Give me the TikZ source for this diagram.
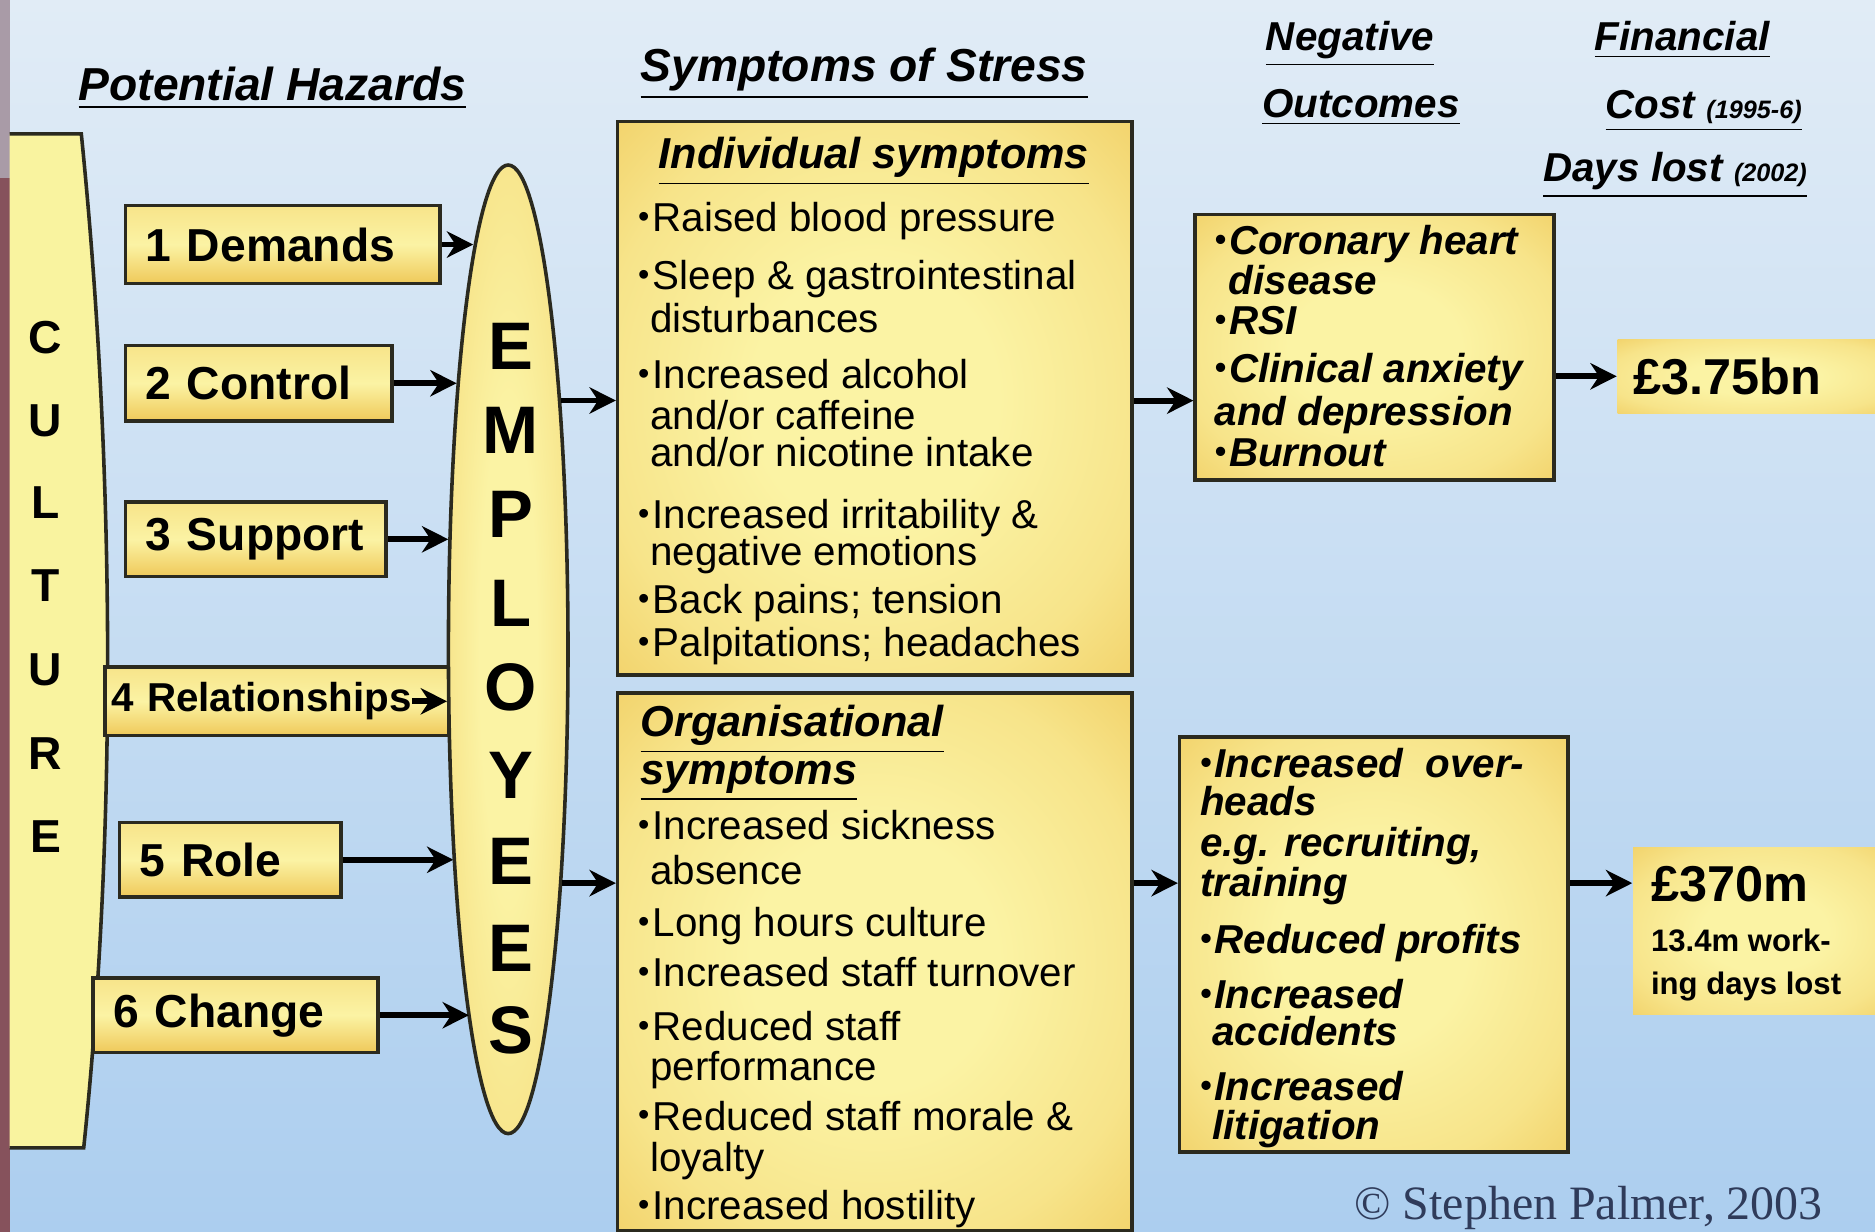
\documentclass[tikz,border=0pt]{standalone}
\usepackage{fontspec}
\setmainfont{Liberation Sans}
\newfontfamily\copyfont{Liberation Serif}
\usepackage{tikz}
\usetikzlibrary{shapes.geometric, arrows.meta, positioning}
\definecolor{stressbgtop}{HTML}{E1ECF6}
\definecolor{stressbgbot}{HTML}{ACCEEF}
\definecolor{stressedge}{HTML}{2B2A1F}
\definecolor{stresspale}{HTML}{FBF3A4}
\definecolor{stressmid}{HTML}{F7E48A}
\definecolor{stressgold}{HTML}{EFC95A}
\definecolor{stressculture}{HTML}{F9F39F}
\definecolor{stressstripe}{HTML}{86525C}
\definecolor{stressstripetop}{HTML}{A99BA7}
\definecolor{stresscopy}{HTML}{2F3B5A}
\newcommand{\bul}{{\raisebox{0.1em}{\scalebox{0.8}{•}}\kern0.08em}}
\pgfdeclareradialshading{stressglow}{\pgfpoint{0bp}{0bp}}{color(0bp)=(stresspale); color(12bp)=(stresspale);
    color(27bp)=(stressmid); color(41bp)=(stressgold); color(50bp)=(stressgold)}

\tikzset{
    hazard/.style={draw=stressedge, line width=0.85pt, top color=stressmid, bottom color=stressgold,
        middle color=stresspale, inner xsep=1.7mm, inner ysep=0pt, align=left,
        font=\fontsize{11}{13}\selectfont\bfseries},
    symbox/.style={draw=stressedge, line width=0.85pt, shading=stressglow, anchor=north west, inner sep=0pt},
    costbox/.style={shading=stressglow, anchor=north west, inner sep=0pt},
    empshape/.style={ellipse, draw=stressedge, line width=0.85pt, shading=stressglow,
        minimum width=10mm, minimum height=81mm, inner sep=0pt},
    empletter/.style={inner sep=0pt, font=\fontsize{16}{16}\selectfont\bfseries},
    cultletter/.style={inner sep=0pt, font=\fontsize{11}{11}\selectfont\bfseries},
    head/.style={anchor=base west, inner sep=0pt, font=\fontsize{11}{13}\selectfont\bfseries\itshape},
    subhead/.style={head, font=\fontsize{9.6}{11}\selectfont\bfseries\itshape},
    boxhead/.style={head, font=\fontsize{10.3}{12}\selectfont\bfseries\itshape},
    bodytxt/.style={anchor=base west, inner sep=0pt, font=\fontsize{9.6}{11}\selectfont},
    outtxt/.style={bodytxt, font=\fontsize{9.6}{11}\selectfont\bfseries\itshape},
    costtxt/.style={bodytxt, font=\fontsize{12}{14}\selectfont\bfseries},
    notetxt/.style={bodytxt, font=\fontsize{7.4}{9}\selectfont\bfseries},
    arr/.style={line width=1.4pt, -{Stealth[length=2.2mm, width=2.2mm]}},
}

\begin{document}
\begin{tikzpicture}[x=0.1mm, y=-0.1mm]
    \clip (0,0) rectangle (1568,1030);
    % background and left stripe
    \shade[top color=stressbgtop, bottom color=stressbgbot] (0,0) rectangle (1568,1030);
    \fill[stressstripetop] (0,0) rectangle (8,149);
    \fill[stressstripe] (0,149) rectangle (8,1030);

    % column headings
    \node[head] (hzhead) at (65,84) {\underline{Potential Hazards}};
    \node[head] (syhead) at (535,68) {\underline{Symptoms of Stress}};
    \node[subhead] (neghead) at (1058,42) {\underline{Negative}};
    \node[subhead] (outhead) at (1055,98) {\underline{Outcomes}};
    \node[subhead] (finhead) at (1333,42) {\underline{Financial}};
    \node[subhead] (costhead) at (1342,99) {\underline{Cost {\fontsize{6}{7}\selectfont(1995-6)}}};
    \node[subhead] (dayhead) at (1290,152) {\underline{Days lost {\fontsize{6}{7}\selectfont(2002)}}};

    % culture
    \fill[stressculture] (8,112) -- (68,112) .. controls (97,400) and (97,700) .. (70,960) -- (8,960) -- cycle;
    \draw[stressedge, line width=0.85pt] (8,112) -- (68,112) .. controls (97,400) and (97,700) .. (70,960) -- (8,960);
    \foreach \l/\y [count=\i] in {C/282, U/352, L/420, T/490, U/560, R/630, E/700}
        \node[cultletter] (cu\i) at (38,\y) {\l};

    % hazards
    \node[hazard, minimum width=26.3mm, minimum height=6.5mm, text width=22.9mm] (d1) at (236.5,204.5) {1 Demands};
    \node[hazard, minimum width=22.3mm, minimum height=6.3mm, text width=18.9mm] (d2) at (216.5,320.5) {2 Control};
    \node[hazard, minimum width=21.8mm, minimum height=6.2mm, text width=18.4mm] (d3) at (214,451) {3 Support};
    \node[hazard, minimum width=28.7mm, minimum height=5.7mm, inner xsep=0.5mm, text width=27.7mm,
        font=\fontsize{9.6}{11}\selectfont\bfseries] (d4) at (231.5,586.5) {4 Relationships};
    \node[hazard, minimum width=18.5mm, minimum height=6.2mm, text width=15.1mm] (d5) at (192.5,719) {5 Role};
    \node[hazard, minimum width=23.8mm, minimum height=6.2mm, text width=20.4mm] (d6) at (197,849) {6 Change};

    % employees
    \node[empshape] (emp) at (425,543) {};
    \foreach \l/\y [count=\i] in {E/290, M/360, P/430, L/505, O/575, Y/648, E/720, E/793, S/862}
        \node[empletter] (em\i) at (427,\y) {\l};

    \draw[arr] (d1) -- (d1 -| emp.95);
    \draw[arr] (d2) -- (d2 -| emp.101);
    \draw[arr] (d3) -- (d3 -| emp.118);
    \draw[arr] ([xshift=-3.2mm]d4.east) -- (d4 -| emp.223);
    \draw[arr] (d5) -- (d5 -| emp.256);
    \draw[arr] (d6) -- (d6 -| emp.264);

    % symptoms
    \node[symbox, minimum width=43mm, minimum height=46.3mm] (ind) at (515,100) {};
    \node[symbox, minimum width=43mm, minimum height=45mm] (org) at (515,578) {};
    \node[boxhead] (indhead) at (550,141) {\underline{Individual symptoms}};
    \node[boxhead] (orghead) at (535,616) {\underline{Organisational}};
    \node[boxhead] (orghead2) at (535,656) {\underline{symptoms}};
    \foreach \t/\x/\y [count=\i] in {
        {\bul Raised blood pressure}/533/194,
        {\bul Sleep \& gastrointestinal}/533/242,
        {disturbances}/543/278,
        {\bul Increased alcohol}/533/325,
        {and/or caffeine}/543/359,
        {and/or nicotine intake}/543/390,
        {\bul Increased irritability \&}/533/442,
        {negative emotions}/543/473,
        {\bul Back pains; tension}/533/513,
        {\bul Palpitations; headaches}/533/549}
        \node[bodytxt] (ind\i) at (\x,\y) {\t};
    \foreach \t/\x/\y [count=\i] in {
        {\bul Increased sickness}/533/702,
        {absence}/543/740,
        {\bul Long hours culture}/533/783,
        {\bul Increased staff turnover}/533/825,
        {\bul Reduced staff}/533/870,
        {performance}/543/904,
        {\bul Reduced staff morale \&}/533/945,
        {loyalty}/543/980,
        {\bul Increased hostility}/533/1020}
        \node[bodytxt] (org\i) at (\x,\y) {\t};

    \draw[arr] (emp.78) -- (emp.78 -| ind.west);
    \draw[arr] (emp.283) -- (emp.283 -| org.west);

    % negative outcomes
    \node[symbox, minimum width=30mm, minimum height=22.2mm] (neg1) at (998,178) {};
    \node[symbox, minimum width=32.5mm, minimum height=34.7mm] (neg2) at (985,615) {};
    \foreach \t/\x/\y [count=\i] in {
        {\bul Coronary heart}/1015/213,
        {disease}/1027/246,
        {\bul RSI}/1015/280,
        {\bul Clinical anxiety}/1015/320,
        {and depression}/1015/356,
        {\bul Burnout}/1015/390}
        \node[outtxt] (nega\i) at (\x,\y) {\t};
    \foreach \t/\x/\y [count=\i] in {
        {\bul Increased\ \ over-}/1003/650,
        {heads}/1003/682,
        {e.g. recruiting,}/1003/716,
        {training}/1003/750,
        {\bul Reduced profits}/1003/797,
        {\bul Increased}/1003/843,
        {accidents}/1013/874,
        {\bul Increased}/1003/920,
        {litigation}/1013/953}
        \node[outtxt] (negb\i) at (\x,\y) {\t};

    \coordinate (r1) at (0,335);
    \draw[arr] (ind.east |- r1) -- (neg1.west |- r1);
    \draw[arr] (org.east |- emp.283) -- (neg2.west |- emp.283);

    % financial cost
    \node[costbox, minimum width=23mm, minimum height=6.2mm] (cost1) at (1352,283) {};
    \node[costbox, minimum width=22mm, minimum height=14mm] (cost2) at (1365,708) {};
    \node[costtxt] (costa) at (1365,330) {£3.75bn};
    \node[costtxt] (costb) at (1380,754) {£370m};
    \node[notetxt] (dayl1) at (1380,796) {13.4m work-};
    \node[notetxt] (dayl2) at (1380,832) {ing days lost};

    \draw[arr] (neg1.east |- cost1.west) -- (cost1.west);
    \draw[arr] (neg2.east |- emp.283) -- (cost2.west |- emp.283);

    \node[anchor=base west, inner sep=0pt, text=stresscopy, font=\copyfont\fontsize{11.4}{13}\selectfont]
        (copy) at (1132,1020) {© Stephen Palmer, 2003};
\end{tikzpicture}
\end{document}
